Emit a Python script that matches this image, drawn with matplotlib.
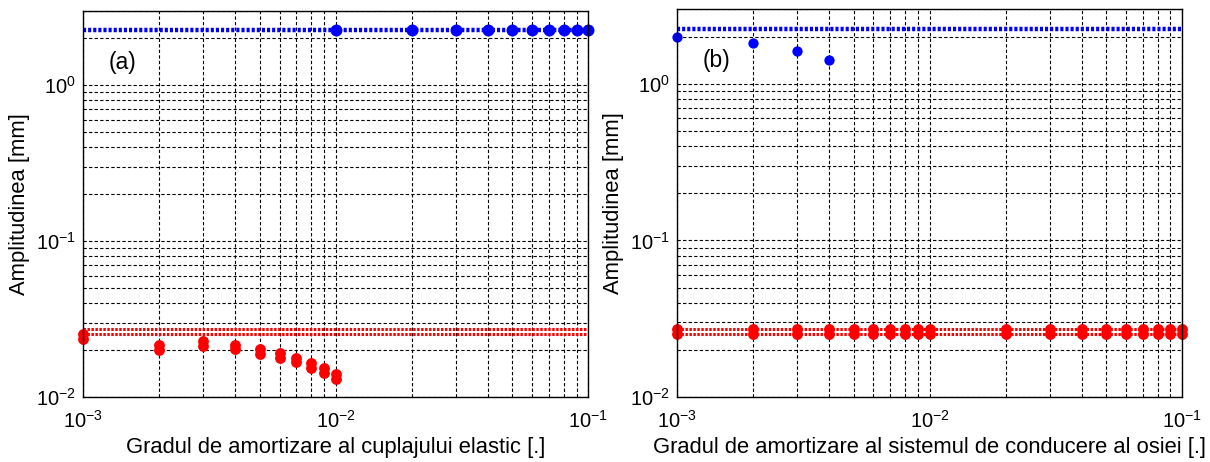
import matplotlib.pyplot as plt
import numpy as np

plt.rcParams['font.family'] = ['Liberation Sans', 'DejaVu Sans']
plt.rcParams['mathtext.fontset'] = 'custom'
plt.rcParams['mathtext.rm'] = 'Liberation Sans'
plt.rcParams['mathtext.it'] = 'Liberation Sans:italic'

# grad de amortizare
x_a = [0.001, 0.002, 0.003, 0.004, 0.005, 0.006, 0.007, 0.008, 0.009, 0.01]
x_b = [0.01, 0.02, 0.03, 0.04, 0.05, 0.06, 0.07, 0.08, 0.09, 0.1]
x_all = x_a + x_b[1:]

# (a) cuplaj elastic
blue_ref_a = 2.25
blue_a = [2.25] * 10
red_ref_a = [0.0272, 0.0253]
red_up_a = [0.0255, 0.0216, 0.0229, 0.0217, 0.0204, 0.0191, 0.0179, 0.0166, 0.0153, 0.0141]
red_lo_a = [0.0237, 0.0201, 0.0213, 0.0202, 0.0190, 0.0177, 0.0167, 0.0154, 0.0143, 0.0131]

# (b) sistem de conducere al osiei
blue_ref_b = 2.23
blue_b = [2.0, 1.83, 1.61, 1.41]
red_ref_b = [0.0272, 0.0253]
red_up_b = [0.0272] * 19
red_lo_b = [0.0253] * 19

fig = plt.figure(figsize=(12.1, 4.62), dpi=100)
ax1 = fig.add_axes([0.0686, 0.1407, 0.4174, 0.8355])
ax2 = fig.add_axes([0.5595, 0.1407, 0.4174, 0.8398])


def style(ax, xlabel, tag):
    ax.set_xscale('log')
    ax.set_yscale('log')
    ax.set_xlim(1e-3, 1e-1)
    ax.set_ylim(1e-2, 3)
    ax.grid(True, which='both', color='black', linestyle=(0, (3, 2)), linewidth=0.8)
    ax.set_axisbelow(True)
    ax.tick_params(which='both', length=0, labelsize=14.5)
    ax.tick_params(axis='x', pad=9)
    ax.tick_params(axis='y', pad=5)
    ax.set_xticks([1e-3, 1e-2, 1e-1])
    ax.set_yticks([1e-2, 1e-1, 1e0])
    ax.set_xlabel(xlabel, fontsize=15.8, va='center')
    ax.xaxis.set_label_coords(0.5, -0.13)
    ax.set_ylabel('Amplitudinea [mm]', fontsize=15.8, va='center')
    ax.yaxis.set_label_coords(-0.125, 0.5)
    ax.text(0.078, 0.866, tag, transform=ax.transAxes, fontsize=16.5,
            ha='center', va='center')
    for s in ax.spines.values():
        s.set_color('black')
        s.set_linewidth(1.0)


blue_line = dict(color='blue', linestyle=(0, (0.7, 0.45)), lw=3.2)
red_line = dict(color='red', linestyle=(0, (0.8, 0.5)), lw=2.2)
dot = dict(linestyle='none', marker='o', mec='none', clip_on=False)

# (a)
ax1.plot([1e-3, 1e-1], [blue_ref_a, blue_ref_a], **blue_line)
for r in red_ref_a:
    ax1.plot([1e-3, 1e-1], [r, r], **red_line)
ax1.plot(x_b, blue_a, color='blue', ms=8.6, **dot)
ax1.plot(x_a, red_up_a, color='red', ms=7.8, **dot)
ax1.plot(x_a, red_lo_a, color='red', ms=7.8, **dot)
style(ax1, 'Gradul de amortizare al cuplajului elastic [.]', '(a)')

# (b)
ax2.plot([1e-3, 1e-1], [blue_ref_b, blue_ref_b], **blue_line)
for r in red_ref_b:
    ax2.plot([1e-3, 1e-1], [r, r], **red_line)
ax2.plot(x_a[:4], blue_b, color='blue', ms=7.4, **dot)
ax2.plot(x_all, red_up_b, color='red', ms=7.8, **dot)
ax2.plot(x_all, red_lo_b, color='red', ms=7.8, **dot)
style(ax2, 'Gradul de amortizare al sistemul de conducere al osiei [.]', '(b)')

fig.savefig('out.png', dpi=100)
